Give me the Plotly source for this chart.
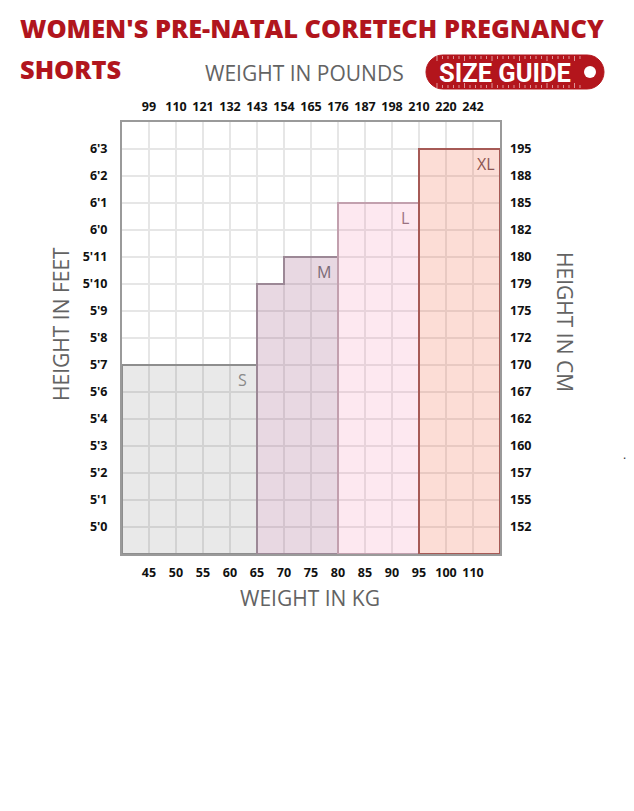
import plotly.graph_objects as go

# ---------------- data ----------------
kg_ticks = [45, 50, 55, 60, 65, 70, 75, 80, 85, 90, 95, 100, 110]
lbs_ticks = [99, 110, 121, 132, 143, 154, 165, 176, 187, 198, 210, 220, 242]
feet_ticks = ["5'0", "5'1", "5'2", "5'3", "5'4", "5'6", "5'7", "5'8", "5'9",
              "5'10", "5'11", "6'0", "6'1", "6'2", "6'3"]
cm_ticks = [152, 155, 157, 160, 162, 167, 170, 172, 175, 179, 180, 182, 185, 188, 195]

size_names = ["S", "M", "L", "XL"]
size_kg_from = [None, 65, 80, 95]      # None = chart edge
size_kg_to = [65, 80, 95, None]
size_max_height = ["5'7", "5'11", "6'1", "6'3"]
m_step_kg_to = 70                      # M: lighter part only up to 5'10
m_step_height = "5'10"

# ---------------- style ----------------
fills = ["rgba(0,0,0,0.085)", "rgba(140,60,110,0.20)",
         "rgba(245,110,160,0.16)", "rgba(240,100,70,0.22)"]
borders = ["#8e8e8e", "#9c8896", "#c2a0ae", "#a65a56"]
label_colors = ["#8a8a8a", "#7b6a76", "#9a7282", "#8c5552"]

OFF = 8                       # page body margin
W, H = 634 - OFF, 811 - OFF
L, R, T, B = 122, 500, 122, 554   # plot area in reference pixels
NX = len(kg_ticks) + 1
NY = len(feet_ticks) + 1


def kx(v):
    return kg_ticks.index(v) + 1


def fy(h):
    return feet_ticks.index(h) + 1


def px_x(p):
    return (p - L) / (R - L)


def px_y(p):
    return (B - p) / (B - T)


fig = go.Figure()

for i, name in enumerate(size_names):
    x0 = kx(size_kg_from[i]) if size_kg_from[i] is not None else 0
    x1 = kx(size_kg_to[i]) if size_kg_to[i] is not None else NX
    top = fy(size_max_height[i])
    if name == "M":
        xs_ = kx(m_step_kg_to)
        ys_ = fy(m_step_height)
        xs = [x0, x0, xs_, xs_, x1, x1, x0]
        ys = [0, ys_, ys_, top, top, 0, 0]
    else:
        xs = [x0, x0, x1, x1, x0]
        ys = [0, top, top, 0, 0]
    fig.add_trace(go.Scatter(x=xs, y=ys, mode="lines", fill="toself",
                             fillcolor=fills[i],
                             line=dict(color=borders[i], width=2),
                             hoverinfo="skip", showlegend=False))
    fig.add_annotation(x=x1 - 0.52, y=top - 0.56, xref="x", yref="y",
                       xanchor="center", yanchor="middle",
                       text=name, showarrow=False,
                       font=dict(family="Open Sans", size=16, color=label_colors[i]))

# invisible trace for secondary axes
fig.add_trace(go.Scatter(x=[0, NX], y=[0, NY], xaxis="x2", yaxis="y2",
                         mode="markers", marker=dict(opacity=0),
                         hoverinfo="skip", showlegend=False))

tickfont = dict(family="Open Sans", size=12.5, color="#111111", weight=700)
top_text = [f"{v}" for v in lbs_ticks]

fig.update_layout(
    width=W, height=H,
    margin=dict(l=L - OFF, r=W - (R - OFF), t=T - OFF, b=H - (B - OFF),
                autoexpand=False),
    paper_bgcolor="white", plot_bgcolor="white",
    xaxis=dict(range=[0, NX], tickvals=list(range(1, NX)),
               ticktext=[str(v) for v in kg_ticks], automargin=False,
               showgrid=True, gridcolor="#e6e6e6", gridwidth=1.6,
               zeroline=False, showline=True, linecolor="#9a9a9a",
               linewidth=2, mirror=True, ticks="", tickfont=tickfont,
               ticklabelstandoff=6, fixedrange=True),
    xaxis2=dict(range=[0, NX], overlaying="x", side="top", automargin=False,
                tickvals=list(range(1, NX)), ticktext=top_text,
                showgrid=False, zeroline=False, showline=False, ticks="",
                tickfont=tickfont, ticklabelstandoff=8, fixedrange=True),
    yaxis=dict(range=[0, NY], tickvals=list(range(1, NY)),
               ticktext=feet_ticks, automargin=False,
               showgrid=True, gridcolor="#e6e6e6", gridwidth=1.6,
               zeroline=False, showline=True, linecolor="#9a9a9a",
               linewidth=2, mirror=True, ticks="", tickfont=tickfont,
               ticklabelstandoff=10, fixedrange=True),
    yaxis2=dict(range=[0, NY], overlaying="y", side="right", automargin=False,
                tickvals=list(range(1, NY)),
                ticktext=[str(v) for v in cm_ticks],
                showgrid=False, zeroline=False, showline=False, ticks="",
                tickfont=tickfont, ticklabelstandoff=9, fixedrange=True),
)

title_color = "#b1151d"
grey = "#636363"


def note(x, y, text, font, angle=0, xanchor="center"):
    fig.add_annotation(x=px_x(x), y=px_y(y), xref="paper", yref="paper",
                       xanchor=xanchor, yanchor="middle", showarrow=False,
                       text=text, textangle=angle, font=font)


# title
tfont = dict(family="Open Sans", size=25.4, color=title_color, weight=800)
note(18, 28, "WOMEN'S PRE-NATAL CORETECH PREGNANCY", tfont, xanchor="left")
note(18, 69, "SHORTS", tfont, xanchor="left")

# axis titles
afont = dict(family="Open Sans", size=21, color=grey)
note(304, 73, "WEIGHT IN POUNDS", afont)
note(310, 598, "WEIGHT IN KG", afont)
note(61, 324, "HEIGHT IN FEET", afont, angle=-90)
note(565, 322, "HEIGHT IN CM", afont, angle=90)
note(624, 454, ".", dict(family="Open Sans", size=12, color="#333333"))

# SIZE GUIDE badge
bx0, bx1, by0, by1 = 426, 604, 55, 89
r = (by1 - by0) / 2
k = 0.5523 * r
ym = (by0 + by1) / 2


def P(x, y):
    return f"{px_x(x):.5f},{px_y(y):.5f}"


path = (f"M{P(bx0 + r, by0)} L{P(bx1 - r, by0)} "
        f"C{P(bx1 - r + k, by0)} {P(bx1, ym - k)} {P(bx1, ym)} "
        f"C{P(bx1, ym + k)} {P(bx1 - r + k, by1)} {P(bx1 - r, by1)} "
        f"L{P(bx0 + r, by1)} "
        f"C{P(bx0 + r - k, by1)} {P(bx0, ym + k)} {P(bx0, ym)} "
        f"C{P(bx0, ym - k)} {P(bx0 + r - k, by0)} {P(bx0 + r, by0)} Z")
fig.add_shape(type="path", path=path, xref="paper", yref="paper",
              fillcolor="#b3151c", line=dict(color="#b3151c", width=1),
              layer="below")

tick_path = ""
xx = 437
n = 0
while xx < 584:
    ln = 5 if n % 5 == 0 else 3
    tick_path += f"M{P(xx, by0 + 1)} L{P(xx, by0 + 1 + ln)} "
    tick_path += f"M{P(xx, by1 - 1)} L{P(xx, by1 - 1 - ln)} "
    xx += 5.5
    n += 1
fig.add_shape(type="path", path=tick_path, xref="paper", yref="paper",
              line=dict(color="rgba(255,255,255,0.55)", width=1), layer="below")

fig.add_shape(type="circle", xref="paper", yref="paper",
              x0=px_x(584), x1=px_x(596), y0=px_y(66), y1=px_y(78),
              fillcolor="white", line=dict(color="white", width=0), layer="below")

note(505, 73, "SIZE GUIDE",
     dict(family="Roboto", size=25.5, color="white", weight=700))

fig.write_html("out.html")
